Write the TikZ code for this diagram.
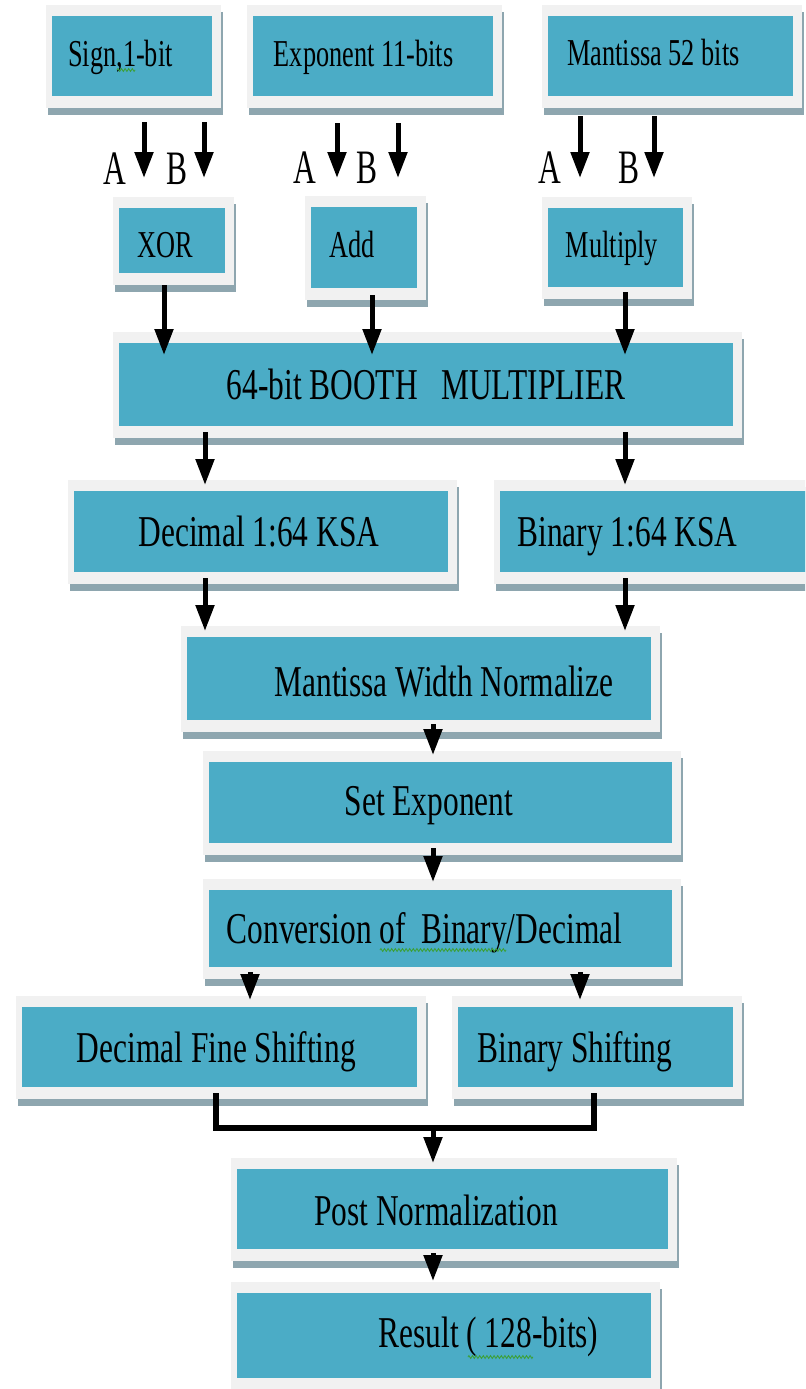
\documentclass[tikz,border=0pt]{standalone}
\usepackage{fontspec}
\setmainfont{Liberation Serif}
\newfontfamily\bigfam[FakeStretch=0.714]{Liberation Serif}
\newfontfamily\smallfam[FakeStretch=0.692]{Liberation Serif}
\newfontfamily\abfam[FakeStretch=0.656]{Liberation Serif}
\usetikzlibrary{arrows.meta,decorations.pathmorphing}

\definecolor{boxteal}{HTML}{4BACC6}
\definecolor{boxframe}{HTML}{F1F1F1}
\definecolor{boxshadow}{HTML}{8EA6AF}
\definecolor{squiggle}{HTML}{3CA03C}

\tikzset{
  box/.style={fill=boxteal, draw=none, inner sep=0pt, outer sep=0pt},
  bigtxt/.style={anchor=base, inner sep=0pt, font=\bigfam\fontsize{22}{24}\selectfont},
  smalltxt/.style={anchor=base, inner sep=0pt, font=\smallfam\fontsize{19}{21}\selectfont},
  abtxt/.style={anchor=base, inner sep=0pt, font=\abfam\fontsize{24}{26}\selectfont},
  arr/.style={line width=2.5pt, -{Triangle[length=13pt,width=9pt]}},
  bar/.style={line width=3pt, line join=miter},
  spell/.style={draw=squiggle, line width=0.45pt, decorate,
    decoration={zigzag, amplitude=0.7pt, segment length=1.8pt}}
}

% panel: name, x1, y1, x2, y2 of the teal face (pixel grid, y downwards);
% a light frame and a grey drop shadow are laid underneath
\newcommand\panel[5]{%
  \fill[boxshadow] ({#2-4},{#3-4}) rectangle ({#4+11},{#5+19});
  \fill[boxframe] ({#2-6},{#3-11}) rectangle ({#4+9},{#5+12});
  \node[box, minimum width={(#4-#2)*0.5pt}, minimum height={(#5-#3)*0.5pt}]
    (#1) at ({(#2+#4)/2},{(#3+#5)/2}) {};}

\begin{document}
\begin{tikzpicture}[x=0.5pt, y=-0.5pt]
\clip (0,0) rectangle (805,1389);
\fill[white] (0,0) rectangle (805,1389);

% ---- input fields
\panel{sign}{52}{16}{212}{96}
\panel{expo}{253}{16}{493}{96}
\panel{mant}{548}{16}{793}{96}
\node[smalltxt] (t-sign) at (120.5,66) {Sign,1-bit};
\node[smalltxt] (t-expo) at (363.5,66.5) {Exponent 11-bits};
\node[smalltxt] (t-mant) at (653.5,65) {Mantissa 52 bits};

% ---- per-field operations
\panel{xor}{119}{208}{225}{273}
\panel{add}{311}{207}{417}{288}
\panel{mult}{548}{208}{683}{287}
\node[smalltxt] (t-xor) at (165,257) {XOR};
\node[smalltxt] (t-add) at (352.5,257) {Add};
\node[smalltxt] (t-mult) at (612,257) {Multiply};

% ---- operand labels
\node[abtxt] (la1) at (115,184) {A};
\node[abtxt] (lb1) at (177,184) {B};
\node[abtxt] (la2) at (305,183) {A};
\node[abtxt] (lb2) at (367,183) {B};
\node[abtxt] (la3) at (550,183) {A};
\node[abtxt] (lb3) at (629,183) {B};

% ---- main datapath
\panel{booth}{119}{343}{733}{426}
\panel{dksa}{74}{491}{448}{572}
\panel{bksa}{500}{491}{830}{572}
\panel{mwn}{187}{637}{651}{720}
\panel{sexp}{209}{762}{672}{843}
\panel{conv}{209}{890}{672}{967}
\panel{dfs}{22}{1007}{417}{1087}
\panel{bsh}{458}{1007}{733}{1087}
\panel{post}{237}{1169}{668}{1249}
\panel{res}{237}{1293}{651}{1378}

\node[bigtxt] (t-booth) at (426,399) {64-bit BOOTH\ \ \ MULTIPLIER};
\node[bigtxt] (t-dksa) at (259,546) {Decimal 1:64 KSA};
\node[bigtxt] (t-bksa) at (627.5,546) {Binary 1:64 KSA};
\node[bigtxt] (t-mwn) at (444,696) {Mantissa Width Normalize};
\node[bigtxt] (t-sexp) at (429,815) {Set Exponent};
\node[bigtxt] (t-conv) at (424.5,943) {Conversion of\ \ Binary/Decimal};
\node[bigtxt] (t-dfs) at (216.5,1062) {Decimal Fine Shifting};
\node[bigtxt] (t-bsh) at (575,1062) {Binary Shifting};
\node[bigtxt] (t-post) at (436,1225) {Post Normalization};
\node[bigtxt] (t-res) at (488.5,1347) {Result ( 128-bits)};

% grammar-check squiggles under the text
\draw[spell] (117,70) -- (135,70);
\draw[spell] (380,950) -- (506,950);
\draw[spell] (468,1357) -- (533,1357);

% ---- column positions of the connectors
\coordinate (xs1) at (144,0);
\coordinate (xs2) at (204,0);
\coordinate (xe1) at (337,0);
\coordinate (xe2) at (398,0);
\coordinate (xm1) at (580,0);
\coordinate (xm2) at (654,0);
\coordinate (xX) at (164,0);
\coordinate (xA) at (372,0);
\coordinate (xL) at (205,0);
\coordinate (xR) at (625,0);
\coordinate (xC) at (433,0);
\coordinate (xD) at (250,0);
\coordinate (xB) at (580,0);
\coordinate (mL) at (216,1128);
\coordinate (mR) at (594,1128);
\coordinate (mC) at (433,1128);

% operands A and B into each operation
\draw[arr] ([yshift=-13pt]sign.south -| xs1) -- ([yshift=15pt]xor.north -| xs1);
\draw[arr] ([yshift=-13pt]sign.south -| xs2) -- ([yshift=15pt]xor.north -| xs2);
\draw[arr] ([yshift=-13.5pt]expo.south -| xe1) -- ([yshift=14.5pt]add.north -| xe1);
\draw[arr] ([yshift=-13.5pt]expo.south -| xe2) -- ([yshift=14.5pt]add.north -| xe2);
\draw[arr] ([yshift=-10pt]mant.south -| xm1) -- ([yshift=15pt]mult.north -| xm1);
\draw[arr] ([yshift=-10pt]mant.south -| xm2) -- ([yshift=15pt]mult.north -| xm2);

% operations into the multiplier
\draw[arr] ([yshift=-6pt]xor.south -| xX) -- ([yshift=-6pt]booth.north -| xX);
\draw[arr] ([yshift=-3.5pt]add.south -| xA) -- ([yshift=-6pt]booth.north -| xA);
\draw[arr] ([yshift=-2.5pt]mult.south -| xR) -- ([yshift=-6pt]booth.north -| xR);

% multiplier into the two adders, adders into normalisation
\draw[arr] ([yshift=-3pt]booth.south -| xL) -- ([yshift=3pt]dksa.north -| xL);
\draw[arr] ([yshift=-3pt]booth.south -| xR) -- ([yshift=3pt]bksa.north -| xR);
\draw[arr] ([yshift=-3pt]dksa.south -| xL) -- ([yshift=3pt]mwn.north -| xL);
\draw[arr] ([yshift=-3pt]bksa.south -| xR) -- ([yshift=3pt]mwn.north -| xR);

% normalise, set exponent, convert
\draw[arr] ([yshift=-2pt]mwn.south -| xC) -- ([yshift=3.5pt]sexp.north -| xC);
\draw[arr] ([yshift=-2.5pt]sexp.south -| xC) -- ([yshift=4pt]conv.north -| xC);
\draw[arr] ([yshift=-2.5pt]conv.south -| xD) -- ([yshift=3.5pt]dfs.north -| xD);
\draw[arr] ([yshift=-2.5pt]conv.south -| xB) -- ([yshift=3.5pt]bsh.north -| xB);

% both shifters merge into post normalisation
\draw[bar] ([yshift=-3pt]dfs.south -| mL) -- (mL) -- (mR) -- ([yshift=-3pt]bsh.south -| mR);
\draw[arr] (mC) -- ([yshift=3pt]post.north -| xC);
\draw[arr] ([yshift=-2pt]post.south -| xC) -- ([yshift=6pt]res.north -| xC);
\end{tikzpicture}
\end{document}
